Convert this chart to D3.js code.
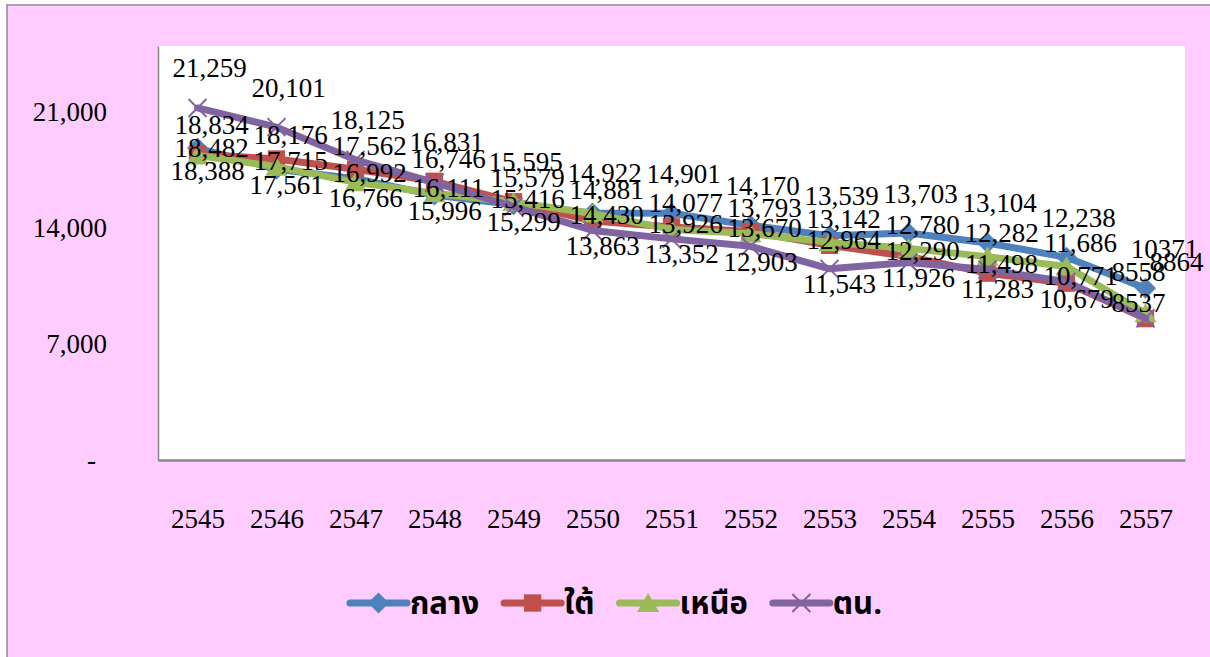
<!DOCTYPE html>
<html>
<head>
<meta charset="utf-8">
<script src="https://cdn.jsdelivr.net/npm/d3@7"></script>
<style>
  body { margin: 0; background: #fff; }
  svg { display: block; }
</style>
</head>
<body>
<svg width="1210" height="657"></svg>
<script>
// data
var years = [2545, 2546, 2547, 2548, 2549, 2550, 2551, 2552, 2553, 2554, 2555, 2556, 2557];
var central   = [18834, 17561, 16992, 15996, 15416, 14922, 14901, 14170, 13539, 13703, 13104, 12238, 10371];
var south     = [18482, 18176, 17562, 16831, 15595, 14430, 14077, 13793, 12964, 12290, 11283, 10679, 8537];
var north     = [18388, 17715, 16766, 16111, 15579, 14881, 13926, 13670, 13142, 12780, 12282, 11686, 8864];
var northeast = [21259, 20101, 18125, 16746, 15299, 13863, 13352, 12903, 11543, 11926, 11498, 10771, 8558];
var seriesNames = ["กลาง", "ใต้", "เหนือ", "ตน."];
var yTicks = [0, 7000, 14000, 21000];

function main() {
    var svg = d3.select("svg");
    var colors = ["#4F81BD", "#C0504D", "#9BBB59", "#8064A2"];
    var shapes = ["diamond", "square", "triangle", "cross"];
    var series = [central, south, north, northeast].map(function(v, i) {
        return { name: seriesNames[i], values: v, color: colors[i], shape: shapes[i] };
    });

    // background
    svg.append("rect").attr("x", 7).attr("y", 5).attr("width", 1215).attr("height", 665)
        .attr("fill", "#FFCCFF").attr("stroke", "#8c8c8c").attr("stroke-width", 1.5);

    var left = 158, right = 1185, top = 46, bottom = 460;
    var xScale = d3.scalePoint().domain(years).range([left, right]).padding(0.5);
    var yScale = d3.scaleLinear().domain([0, 25000]).range([bottom, top]);

    svg.append("rect").attr("x", left).attr("y", top)
        .attr("width", right - left).attr("height", bottom - top).attr("fill", "#fff");

    var font = "'Liberation Serif', 'Times New Roman', Times, serif";

    // axes
    var yAxis = svg.append("g")
        .attr("transform", "translate(" + left + ",0)")
        .call(d3.axisLeft(yScale).tickValues(yTicks).tickSize(0).tickPadding(51)
            .tickFormat(function(d) { return d === 0 ? "-" : d3.format(",")(d); }));
    yAxis.select(".domain").attr("stroke", "#868686").attr("stroke-width", 1.5);
    yAxis.selectAll("text").attr("font-family", font).attr("font-size", "27px").attr("fill", "#000")
        .filter(function(d) { return d === 0; }).attr("x", -62);

    var xAxis = svg.append("g")
        .attr("transform", "translate(0," + bottom + ")")
        .call(d3.axisBottom(xScale).tickSize(0).tickPadding(49));
    xAxis.select(".domain").attr("stroke", "#868686").attr("stroke-width", 2.5);
    xAxis.selectAll("text").attr("font-family", font).attr("font-size", "27px").attr("fill", "#000");

    function marker(sel, shape, color) {
        if (shape === "diamond") {
            sel.append("path").attr("d", d3.symbol(d3.symbolSquare, 220)())
                .attr("transform", "rotate(45)").attr("fill", color);
        } else if (shape === "square") {
            sel.append("path").attr("d", d3.symbol(d3.symbolSquare, 300)()).attr("fill", color);
        } else if (shape === "triangle") {
            sel.append("path").attr("d", "M0,-10L11,9L-11,9Z").attr("fill", color);
        } else {
            sel.append("path").attr("d", "M-9,-9L9,9M-9,9L9,-9")
                .attr("stroke", color).attr("stroke-width", 2).attr("fill", "none");
        }
    }

    var line = d3.line()
        .x(function(d, i) { return xScale(years[i]); })
        .y(function(d) { return yScale(d); });

    series.forEach(function(s) {
        var g = svg.append("g");
        g.append("path").datum(s.values)
            .attr("d", line).attr("fill", "none")
            .attr("stroke", s.color).attr("stroke-width", 7)
            .attr("stroke-linejoin", "round").attr("stroke-linecap", "round");
        g.selectAll(".pt").data(s.values).enter().append("g")
            .attr("class", "pt")
            .attr("transform", function(d, i) { return "translate(" + xScale(years[i]) + "," + yScale(d) + ")"; })
            .each(function() { marker(d3.select(this), s.shape, s.color); });
    });

    // data labels: stacked by rank within each year, last column squeezed in by the edge
    var rankDy = [-40, -24, -6, 15];
    var rankDx = [12, 14, 14, 10];
    var lastDy = [-40, -52, -47, -16];
    var lastDx = [19, 31, -7, -7];
    var labels = [];
    years.forEach(function(yr, i) {
        var vals = series.map(function(s) { return s.values[i]; })
            .sort(function(a, b) { return b - a; });
        vals.forEach(function(v, r) {
            labels.push({ i: i, v: v, r: r });
        });
    });
    var last = years.length - 1;
    svg.append("g").selectAll("text").data(labels).enter().append("text")
        .attr("x", function(d) { return xScale(years[d.i]) + (d.i === last ? lastDx : rankDx)[d.r]; })
        .attr("y", function(d) { return yScale(d.v) + (d.i === last ? lastDy : rankDy)[d.r]; })
        .attr("dy", "0.35em")
        .attr("text-anchor", "middle")
        .attr("font-family", font).attr("font-size", "27px")
        .text(function(d) { return d.i === last ? d3.format("d")(d.v) : d3.format(",")(d.v); });

    // legend
    var legend = svg.append("g").attr("transform", "translate(350,603)");
    var lx = 0;
    series.forEach(function(s) {
        var item = legend.append("g").attr("transform", "translate(" + lx + ",0)");
        item.append("line").attr("x1", 0).attr("x2", 57).attr("y1", 0).attr("y2", 0)
            .attr("stroke", s.color).attr("stroke-width", 7).attr("stroke-linecap", "round");
        var m = item.append("g").attr("transform", "translate(28.5,0)");
        marker(m, s.shape, s.color);
        var t = item.append("text").attr("x", 60).attr("y", 11)
            .attr("font-family", "Tahoma, 'Noto Sans Thai', 'Noto Sans', sans-serif")
            .attr("font-weight", "bold").attr("font-size", "31px").text(s.name);
        lx += 60 + t.node().getComputedTextLength() + 25;
    });
}
main();
</script>
</body>
</html>
